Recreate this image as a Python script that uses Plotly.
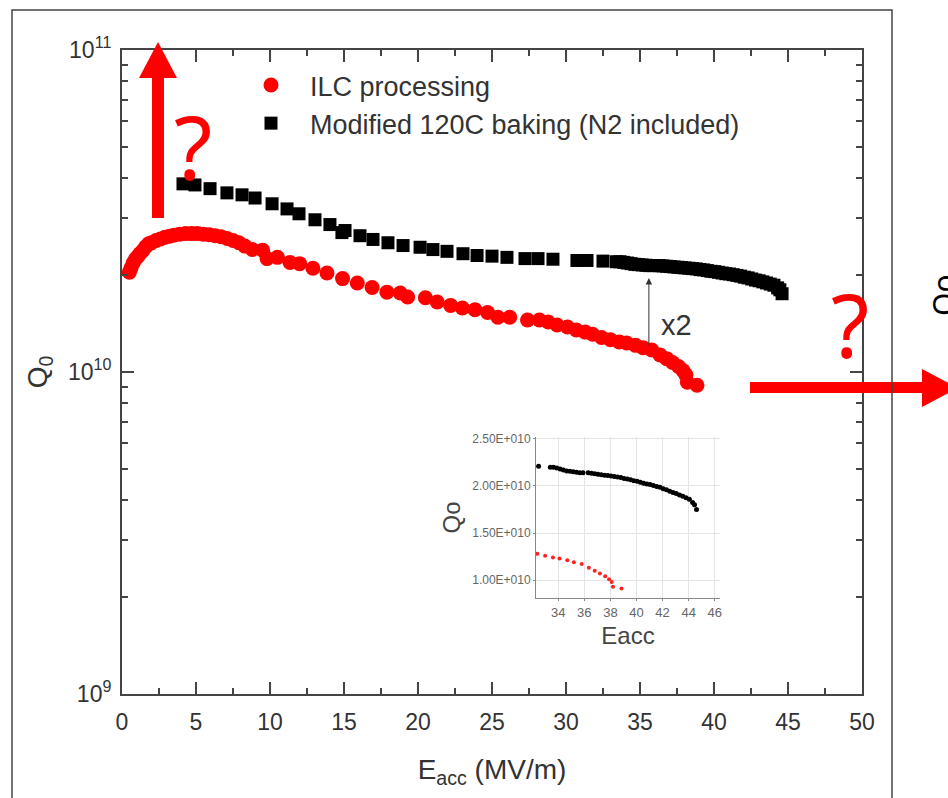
import plotly.graph_objects as go

# ---------------- data (Q in units of 1e10) ----------------
UNIT = 1e10
ilc_e = [0.5, 0.6, 0.75, 0.9, 1.05, 1.2, 1.4, 1.6, 1.8, 2.0, 2.3, 2.6, 2.9, 3.2, 3.5, 3.9,
         4.3, 4.7, 5.1, 5.5, 5.9, 6.3, 6.7, 7.1, 7.5, 7.9, 8.3, 8.8, 9.5, 9.8, 10.5, 11.35,
         12.0, 12.9, 13.85, 14.9, 15.9, 16.9, 17.9, 18.8, 19.3, 20.5, 21.3, 22.2, 23.0,
         23.85, 24.7, 25.4, 26.2, 27.4, 28.2, 28.8, 29.4, 30.1, 30.7, 31.3, 31.8, 32.4,
         33.0, 33.6, 34.1, 34.7, 35.2, 35.8, 36.35, 36.8, 37.2, 37.6, 37.9, 38.1, 38.2, 38.85]
ilc_q = [2.04, 2.10, 2.18, 2.24, 2.28, 2.33, 2.38, 2.45, 2.50, 2.52, 2.56, 2.59, 2.62, 2.64, 2.66, 2.68,
         2.69, 2.69, 2.69, 2.68, 2.67, 2.65, 2.63, 2.60, 2.56, 2.52, 2.46, 2.40, 2.39, 2.25, 2.27, 2.19,
         2.17, 2.10, 2.03, 1.95, 1.89, 1.83, 1.77, 1.76, 1.71, 1.70, 1.65, 1.61, 1.58,
         1.56, 1.53, 1.48, 1.48, 1.45, 1.45, 1.43, 1.40, 1.38, 1.35, 1.33, 1.31, 1.28,
         1.26, 1.24, 1.23, 1.21, 1.19, 1.17, 1.13, 1.10, 1.07, 1.04, 1.01, 0.98, 0.93, 0.91]

mod_e = [4.12, 4.93, 5.95, 7.09, 8.11, 8.99, 10.14, 11.15, 11.96, 13.04, 14.05, 14.86, 15.07,
         16.08, 16.96, 17.97, 18.99, 20.14, 21.01, 21.96, 23.04, 23.99, 25.0, 26.01, 27.23,
         28.11, 29.12, 30.74, 31.42, 32.5,
         33.4, 33.65, 33.9, 34.15, 34.4, 34.65, 34.9, 35.15, 35.4, 35.65, 35.9,
         36.3, 36.55, 36.8, 37.05, 37.3, 37.55, 37.8, 38.05, 38.3, 38.55, 38.8, 39.05, 39.3,
         39.55, 39.8, 40.05, 40.3, 40.55, 40.8, 41.05, 41.3, 41.55, 41.8, 42.05, 42.3, 42.55,
         42.8, 43.05, 43.3, 43.55, 43.8, 44.05, 44.3, 44.45, 44.6]
mod_q = [3.84, 3.81, 3.71, 3.60, 3.55, 3.47, 3.33, 3.21, 3.10, 2.97, 2.87, 2.71, 2.75,
         2.65, 2.58, 2.52, 2.47, 2.44, 2.40, 2.37, 2.33, 2.30, 2.29, 2.27, 2.25,
         2.25, 2.24, 2.22, 2.22, 2.21,
         2.20, 2.20, 2.19, 2.18, 2.17, 2.16, 2.155, 2.15, 2.145, 2.14, 2.14,
         2.14, 2.135, 2.13, 2.125, 2.12, 2.115, 2.11, 2.105, 2.10, 2.095, 2.09, 2.08, 2.075,
         2.065, 2.055, 2.05, 2.04, 2.03, 2.02, 2.015, 2.005, 1.995, 1.985, 1.97, 1.96, 1.945,
         1.93, 1.92, 1.905, 1.89, 1.875, 1.86, 1.825, 1.80, 1.75]

x_ticks = [0, 5, 10, 15, 20, 25, 30, 35, 40, 45, 50]
y_ticks = [1e9, 1e10, 1e11]
y_ticktext = ["10<sup>9</sup>", "10<sup>10</sup>", "10<sup>11</sup>"]
inset_x_ticks = [34, 36, 38, 40, 42, 44, 46]
inset_y_ticks = [1.0e10, 1.5e10, 2.0e10, 2.5e10]
inset_y_text = ["1.00E+010", "1.50E+010", "2.00E+010", "2.50E+010"]

ilc_qv = [v * UNIT for v in ilc_q]
mod_qv = [v * UNIT for v in mod_q]

# ---------------- geometry helpers ----------------
W, H = 948, 798
L, R, T, B = 122, 862, 50, 694


def xp(px):
    return (px - L) / (R - L)


def yp(py):
    return (B - py) / (B - T)


FONT = "Liberation Sans, Arial, sans-serif"
AX = "#444444"
TXT = "#333333"

fig = go.Figure()

fig.add_trace(go.Scatter(x=ilc_e, y=ilc_qv, mode="markers", name="ILC processing",
                         marker=dict(symbol="circle", size=15, color="#ff0000"),
                         xaxis="x", yaxis="y"))
fig.add_trace(go.Scatter(x=mod_e, y=mod_qv, mode="markers", name="Modified 120C baking (N2 included)",
                         marker=dict(symbol="square", size=13, color="#000000"),
                         xaxis="x", yaxis="y"))
# inset
fig.add_trace(go.Scatter(x=ilc_e, y=ilc_qv, mode="markers", showlegend=False,
                         marker=dict(symbol="circle", size=4, color="#ff2020"),
                         xaxis="x2", yaxis="y2"))
fig.add_trace(go.Scatter(x=mod_e, y=mod_qv, mode="markers", showlegend=False,
                         marker=dict(symbol="circle", size=5, color="#000000"),
                         xaxis="x2", yaxis="y2"))

minor_y = [m * d for d in (1e9, 1e10) for m in range(2, 10)]

fig.update_layout(
    width=W, height=H,
    margin=dict(l=L, r=W - R, t=T, b=H - B, autoexpand=False),
    paper_bgcolor="white", plot_bgcolor="white",
    font=dict(family=FONT, color=TXT),
    showlegend=True,
    legend=dict(x=xp(232), y=yp(61), xanchor="left", yanchor="top",
                font=dict(size=27, color=TXT, family=FONT), itemwidth=68,
                bgcolor="rgba(0,0,0,0)", borderwidth=0),
    xaxis=dict(range=[0, 50], tickvals=x_ticks, ticks="inside", ticklen=12, tickwidth=1.5,
               tickcolor=AX, showline=True, linecolor=AX, linewidth=2, mirror="allticks",
               showgrid=False, zeroline=False, ticklabelstandoff=6,
               minor=dict(dtick=2.5, tick0=0, ticks="inside", ticklen=6, tickwidth=1.5,
                          tickcolor=AX, showgrid=False),
               tickfont=dict(size=23, color=TXT, family=FONT),
               title=dict(text="E<sub>acc</sub> (MV/m)", font=dict(size=28, color=TXT, family=FONT),
                          standoff=26)),
    yaxis=dict(type="log", range=[9, 11], tickvals=y_ticks, ticktext=y_ticktext,
               ticks="inside", ticklen=12, tickwidth=1.5, tickcolor=AX,
               showline=True, linecolor=AX, linewidth=2, mirror="allticks",
               showgrid=False, zeroline=False, ticklabelstandoff=4,
               minor=dict(tickvals=minor_y, ticks="inside", ticklen=6, tickwidth=1.5,
                          tickcolor=AX, showgrid=False),
               tickfont=dict(size=23, color=TXT, family=FONT),
               title=dict(text="Q<sub>0</sub>", font=dict(size=28, color=TXT, family=FONT),
                          standoff=12)),
    xaxis2=dict(domain=[xp(536), xp(720)], anchor="y2", range=[32.3, 46.4],
                tickvals=inset_x_ticks, showgrid=True, gridcolor="#e4e4e4", gridwidth=1,
                showline=True, linecolor="#888888", linewidth=1, zeroline=False,
                ticks="outside", ticklen=2, tickcolor="#888888",
                tickfont=dict(size=13, color="#666666", family=FONT),
                title=dict(text="Eacc", font=dict(size=24, color="#444444", family=FONT), standoff=8)),
    yaxis2=dict(domain=[yp(598), yp(437)], anchor="x2", range=[0.81e10, 2.52e10],
                tickvals=inset_y_ticks, ticktext=inset_y_text,
                showgrid=True, gridcolor="#e4e4e4", gridwidth=1,
                showline=True, linecolor="#888888", linewidth=1, zeroline=False,
                ticks="outside", ticklen=2, tickcolor="#888888",
                tickfont=dict(size=12, color="#666666", family=FONT),
                title=dict(text="Qo", font=dict(size=24, color="#444444", family=FONT), standoff=4)),
)

# x2 arrow and label (log axis -> log10 coordinates)
fig.add_annotation(x=35.6, y=10.292, ax=35.6, ay=10.078, xref="x", yref="y", axref="x", ayref="y",
                   text="", showarrow=True, arrowhead=2, arrowsize=1.3, arrowwidth=1,
                   arrowcolor="#333333", standoff=0, startstandoff=0)
fig.add_annotation(x=37.45, y=10.146, xref="x", yref="y", text="x2", showarrow=False,
                   font=dict(size=29, color=TXT, family=FONT))

# red overlays
RED = "#ff0000"
fig.add_shape(type="rect", xref="paper", yref="paper", x0=xp(152), x1=xp(164), y0=yp(218), y1=yp(76),
              fillcolor=RED, line=dict(width=0), layer="above")
fig.add_shape(type="path", xref="paper", yref="paper",
              path=f"M {xp(139)},{yp(78)} L {xp(177)},{yp(78)} L {xp(158)},{yp(42)} Z",
              fillcolor=RED, line=dict(width=0), layer="above")
fig.add_shape(type="rect", xref="paper", yref="paper", x0=xp(750), x1=xp(923), y0=yp(393), y1=yp(382),
              fillcolor=RED, line=dict(width=0), layer="above")
fig.add_shape(type="path", xref="paper", yref="paper",
              path=f"M {xp(922)},{yp(369)} L {xp(922)},{yp(407)} L {xp(958)},{yp(388)} Z",
              fillcolor=RED, line=dict(width=0), layer="above")
fig.add_annotation(x=xp(193), y=yp(146), xref="paper", yref="paper", text="?", showarrow=False,
                   xanchor="center", yanchor="middle",
                   font=dict(size=88, color=RED, family="Noto Sans"))
fig.add_annotation(x=xp(850), y=yp(324), xref="paper", yref="paper", text="?", showarrow=False,
                   xanchor="center", yanchor="middle",
                   font=dict(size=88, color=RED, family="Noto Sans"))
fig.add_annotation(x=xp(943), y=yp(295), xref="paper", yref="paper", text="Qo", showarrow=False,
                   xanchor="center", yanchor="middle",
                   textangle=-90, font=dict(size=30, color="#000000", family="Noto Sans"))

# outer frame
fig.add_shape(type="rect", xref="paper", yref="paper", x0=xp(12), x1=xp(892), y0=yp(810), y1=yp(10),
              line=dict(color="#444444", width=1.5), fillcolor="rgba(0,0,0,0)", layer="above")

fig.write_html("out.html")
